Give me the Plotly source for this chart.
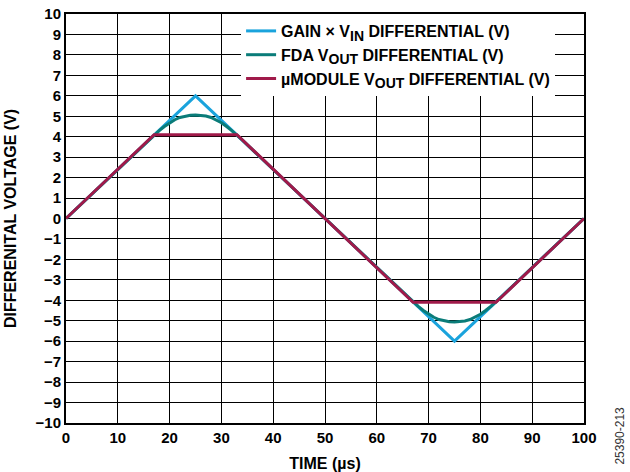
import plotly.graph_objects as go

# time axis (µs)
gain_t = [0, 25, 50, 75, 100]
gain_v = [0, 6, 0, -6, 0]

fda_t = [0, 16, 18, 19, 20, 21, 22, 23, 24, 25, 26, 27, 28, 29, 30, 31, 32, 34,
         50, 66, 68, 69, 70, 71, 72, 73, 74, 75, 76, 77, 78, 79, 80, 81, 82, 84, 100]
fda_v = [0, 3.84, 4.3, 4.5, 4.68, 4.83, 4.94, 5.01, 5.05, 5.06, 5.05, 5.01, 4.94, 4.83, 4.68, 4.5, 4.3, 3.84,
         0, -3.84, -4.3, -4.5, -4.68, -4.83, -4.94, -5.01, -5.05, -5.06, -5.05, -5.01, -4.94, -4.83, -4.68, -4.5, -4.3, -3.84, 0]

umod_t = [0, 17, 33, 50, 67, 83, 100]
umod_v = [0, 4.1, 4.1, 0, -4.1, -4.1, 0]

font_family = "Liberation Sans, Arial, sans-serif"


def sub(s):
    return "<sub><span style='font-size:14px'>" + s + "</span></sub>"


fig = go.Figure()
fig.add_trace(go.Scatter(x=gain_t, y=gain_v, mode="lines",
                         line=dict(color="#1aa3dc", width=3),
                         name="GAIN × V" + sub("IN") + " DIFFERENTIAL (V)"))
fig.add_trace(go.Scatter(x=fda_t, y=fda_v, mode="lines",
                         line=dict(color="#0a7c79", width=3),
                         name="FDA V" + sub("OUT") + " DIFFERENTIAL (V)"))
fig.add_trace(go.Scatter(x=umod_t, y=umod_v, mode="lines",
                         line=dict(color="#a01a4a", width=3),
                         name="µMODULE V" + sub("OUT") + " DIFFERENTIAL (V)"))

fig.update_layout(
    width=630, height=472,
    margin=dict(l=66, r=46, t=14, b=49),
    paper_bgcolor="white", plot_bgcolor="white",
    font=dict(family=font_family, size=15, color="black", weight="bold"),
    showlegend=True,
    legend=dict(x=0.338, y=1.0, xanchor="left", yanchor="top",
                bgcolor="white", borderwidth=0,
                font=dict(size=16, weight="bold"), tracegroupgap=0, itemwidth=30),
    xaxis=dict(range=[0, 100], dtick=10, showgrid=True, gridcolor="black", gridwidth=1.2,
               showline=True, linecolor="black", linewidth=2, mirror=True,
               zeroline=False, ticks="", automargin=False,
               tickfont=dict(size=15, weight="bold"),
               title=dict(text="TIME (µs)", font=dict(size=16, weight="bold"))),
    yaxis=dict(range=[-10, 10], dtick=1, showgrid=True, gridcolor="black", gridwidth=1.2,
               showline=True, linecolor="black", linewidth=2, mirror=True,
               zeroline=False, ticks="", automargin=False,
               tickfont=dict(size=15, weight="bold"),
               title=dict(text="DIFFERENITAL VOLTAGE (V)", font=dict(size=16, weight="bold"))),
    annotations=[dict(text="25390-213", xref="paper", yref="paper", x=1.0695, y=0.045,
                      xanchor="center", yanchor="top", textangle=-90, showarrow=False,
                      font=dict(size=12, color="#333", weight="normal"))],
)

fig.write_html("out.html", config={"displayModeBar": False},
               post_script="document.body.style.margin='0';")
